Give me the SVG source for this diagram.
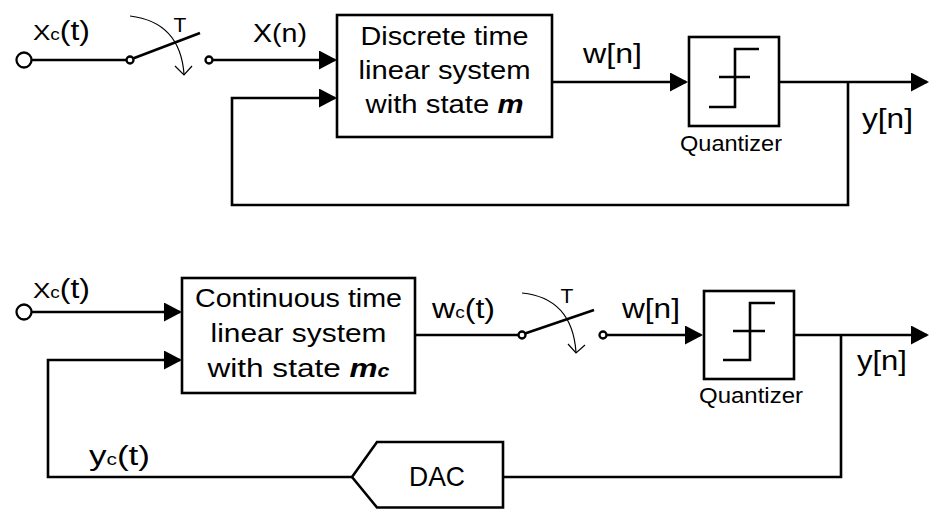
<svg xmlns="http://www.w3.org/2000/svg" width="929" height="509" viewBox="0 0 929 509">
<defs>
<marker id="arr" viewBox="0 0 18 19" refX="16" refY="9.5" markerWidth="18" markerHeight="19" markerUnits="userSpaceOnUse" orient="auto">
<path d="M0,0 L18,9.5 L0,19 Z" fill="#000"/>
</marker>
<style>
.t{font-family:"Liberation Sans",Arial,Helvetica,sans-serif;fill:#000}
.ln{fill:none;stroke:#000;stroke-width:2.6}
.box{fill:#fff;stroke:#000;stroke-width:2.6}
.thin{fill:none;stroke:#000;stroke-width:1.2}
.sw{fill:#fff;stroke:#000;stroke-width:2.3}
.bi{font-weight:bold;font-style:italic}
</style>
</defs>
<rect width="929" height="509" fill="#fff"/>

<g id="connectors">
<path class="ln" d="M31,60 L126,60"/>
<path class="ln" d="M213,60 L335,60" marker-end="url(#arr)"/>
<path class="ln" d="M552,82 L686,82" marker-end="url(#arr)"/>
<path class="ln" d="M779,82 L927,82" marker-end="url(#arr)"/>
<path class="ln" d="M848,82 L848,205 L232,205 L232,98 L335,98" marker-end="url(#arr)"/>
<path class="ln" d="M31,312 L180,312" marker-end="url(#arr)"/>
<path class="ln" d="M415,335 L518,335"/>
<path class="ln" d="M607,335 L701,335" marker-end="url(#arr)"/>
<path class="ln" d="M794,335 L927,335" marker-end="url(#arr)"/>
<path class="ln" d="M841,335 L841,477 L503,477"/>
<path class="ln" d="M352,477 L48,477 L48,360 L180,360" marker-end="url(#arr)"/>
</g>

<g id="input-top">
<circle class="sw" cx="24" cy="60" r="7.5"/>
<text class="t" x="33" y="40" font-size="27" textLength="57" lengthAdjust="spacingAndGlyphs"><tspan font-size="22">X</tspan><tspan font-size="16">c</tspan>(t)</text>
</g>

<g id="switch-top">
<path class="ln" d="M133,58.5 L200,33"/>
<circle class="sw" cx="130" cy="60" r="3.5"/>
<circle class="sw" cx="209" cy="60" r="3.5"/>
<path class="thin" d="M130,16 Q180,22 184,74"/>
<path class="thin" d="M175,66 L184,75 L192,66"/>
<text class="t" x="180" y="32" font-size="21" text-anchor="middle">T</text>
</g>

<text class="t" x="253" y="42" font-size="26" textLength="54" lengthAdjust="spacingAndGlyphs">X(n)</text>

<g id="dt-system">
<rect class="box" x="337" y="15" width="215" height="122"/>
<text class="t" x="444.5" y="45" font-size="26.5" text-anchor="middle" textLength="168" lengthAdjust="spacingAndGlyphs">Discrete time</text>
<text class="t" x="444.5" y="79" font-size="26.5" text-anchor="middle" textLength="172" lengthAdjust="spacingAndGlyphs">linear system</text>
<text class="t" x="444.5" y="113" font-size="26.5" text-anchor="middle" textLength="158" lengthAdjust="spacingAndGlyphs">with state <tspan class="bi">m</tspan></text>
</g>

<text class="t" x="583" y="63" font-size="28" textLength="59" lengthAdjust="spacingAndGlyphs">w[n]</text>

<g id="quantizer-top">
<rect class="box" x="689" y="37" width="90" height="89"/>
<path class="ln" d="M759,49 L735,49 L735,107 L709,107 M719,77 L750,77"/>
<text class="t" x="731" y="151" font-size="22" text-anchor="middle" textLength="102" lengthAdjust="spacingAndGlyphs">Quantizer</text>
</g>

<text class="t" x="862" y="128" font-size="28" textLength="51" lengthAdjust="spacingAndGlyphs">y[n]</text>

<g id="input-bottom">
<circle class="sw" cx="24" cy="312" r="7.5"/>
<text class="t" x="33" y="298" font-size="27" textLength="57" lengthAdjust="spacingAndGlyphs"><tspan font-size="22">X</tspan><tspan font-size="16">c</tspan>(t)</text>
</g>

<g id="ct-system">
<rect class="box" x="182" y="278" width="233" height="115"/>
<text class="t" x="298.5" y="307" font-size="26.5" text-anchor="middle" textLength="207" lengthAdjust="spacingAndGlyphs">Continuous time</text>
<text class="t" x="298.5" y="342" font-size="26.5" text-anchor="middle" textLength="176" lengthAdjust="spacingAndGlyphs">linear system</text>
<text class="t" x="298.5" y="377" font-size="26.5" text-anchor="middle" textLength="182" lengthAdjust="spacingAndGlyphs">with state <tspan class="bi">m</tspan><tspan class="bi" font-size="18">c</tspan></text>
</g>

<text class="t" x="432" y="318" font-size="27" textLength="63" lengthAdjust="spacingAndGlyphs">w<tspan font-size="16">c</tspan>(t)</text>

<g id="switch-bottom">
<path class="ln" d="M525,333.5 L594,310"/>
<circle class="sw" cx="522" cy="335" r="3.5"/>
<circle class="sw" cx="603" cy="335" r="3.5"/>
<path class="thin" d="M522,293 Q572,298 576,352"/>
<path class="thin" d="M568,344 L576,353 L585,345"/>
<text class="t" x="567" y="303" font-size="21" text-anchor="middle">T</text>
</g>

<text class="t" x="622" y="318" font-size="28" textLength="58" lengthAdjust="spacingAndGlyphs">w[n]</text>

<g id="quantizer-bottom">
<rect class="box" x="704" y="291" width="90" height="88"/>
<path class="ln" d="M775,303 L750,303 L750,360 L723,360 M733,331 L765,331"/>
<text class="t" x="751" y="403" font-size="22" text-anchor="middle" textLength="104" lengthAdjust="spacingAndGlyphs">Quantizer</text>
</g>

<text class="t" x="857" y="370" font-size="28" textLength="50" lengthAdjust="spacingAndGlyphs">y[n]</text>

<g id="dac">
<path class="box" d="M352,477 L377,442 L503,442 L503,507.5 L377,507.5 Z"/>
<text class="t" x="437" y="486" font-size="28" text-anchor="middle" textLength="56" lengthAdjust="spacingAndGlyphs">DAC</text>
</g>

<text class="t" x="89" y="465" font-size="27" textLength="61" lengthAdjust="spacingAndGlyphs">y<tspan font-size="16">c</tspan>(t)</text>
</svg>
